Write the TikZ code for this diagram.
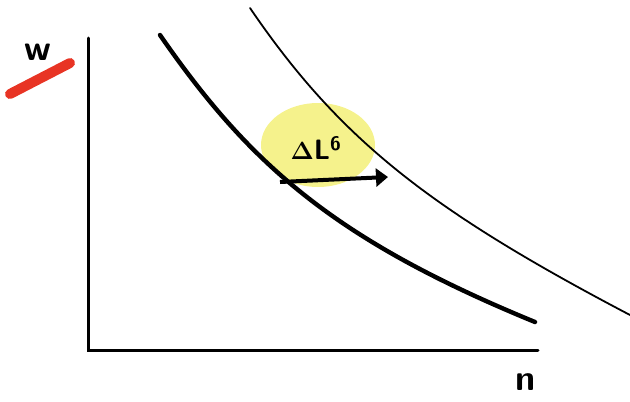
\documentclass[tikz,border=0pt]{standalone}
\usepackage{amsmath,amssymb}
\usepackage{xcolor}
\usetikzlibrary{arrows.meta, positioning}
\definecolor{markred}{RGB}{232,52,36}
\definecolor{blobyellow}{RGB}{245,242,140}
\tikzstyle{axis} = [line width=3pt, line cap=round]
\tikzstyle{curvethick} = [line width=4.4pt, line cap=round]
\tikzstyle{curvethin} = [line width=1.8pt, line cap=round]
\tikzstyle{arrow} = [line width=4pt, -{Triangle[length=12pt,width=18pt]}]
\tikzstyle{label} = [font=\sffamily\bfseries\fontsize{36}{36}\selectfont]

\begin{document}
\begin{tikzpicture}[x=1pt, y=-1pt]
\useasboundingbox (0,0) rectangle (630,402);

\fill[blobyellow] (318,145) ellipse [x radius=57, y radius=42];

\coordinate (origin) at (88,350);
\coordinate (ytop) at (88,38);
\coordinate (xend) at (538,350);
\draw [axis] (ytop) -- (origin) -- (xend);

\draw [curvethick] (160,35) .. controls (250,165) and (335,240) .. (535,322);
\draw [curvethin] (250,8) .. controls (340,140) and (430,210) .. (630,315);

\coordinate (shiftstart) at (280,182);
\coordinate (shiftend) at (388,177);
\draw [arrow] (shiftstart) -- (shiftend);

\node (dl) [label, font=\sffamily\bfseries\fontsize{28}{28}\selectfont] at (316,148) {$\boldsymbol{\Delta}$L\textsuperscript{6}};
\node (wlab) [label] at (38,52) {w};
\node (nlab) [label] at (526,382) {n};
\draw [markred, line width=10pt, line cap=round] (10,94) -- (70,63);

\end{tikzpicture}
\end{document}
